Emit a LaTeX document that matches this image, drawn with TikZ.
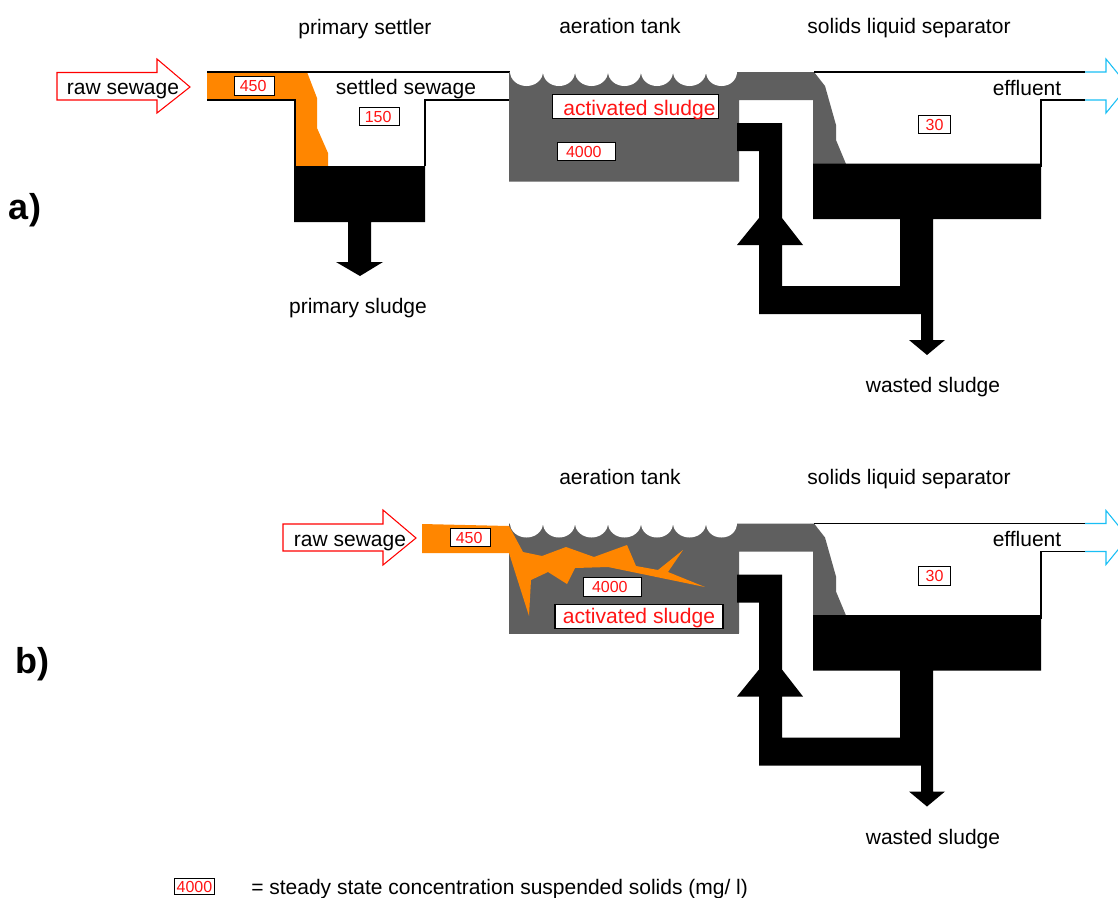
\documentclass[tikz,border=0pt]{standalone}
\usepackage{fontspec}
\setmainfont{Liberation Sans}
\definecolor{sludgegrey}{HTML}{5F5F5F}
\definecolor{rawfill}{HTML}{FF8600}
\definecolor{cyanline}{HTML}{19BFF5}
\definecolor{redtext}{HTML}{FF1414}
\tikzset{
  lab/.style={font=\fontsize{15.75}{18}\selectfont,text=black,inner sep=0pt,anchor=center},
  tag/.style={draw=black,line width=0.8pt,fill=white,inner sep=0pt,minimum height=14pt,
     font=\fontsize{12}{14}\selectfont,text=redtext,anchor=center},
  bigtag/.style={draw=black,line width=0.8pt,fill=white,inner sep=0pt,minimum height=18.5pt,
     font=\fontsize{15.8}{18}\selectfont,text=redtext,anchor=center},
  pipe/.style={draw=black,line width=0.8pt},
  sewer/.style={draw=red,fill=white,line width=0.8pt,line join=miter},
  outflow/.style={draw=cyanline,line width=0.8pt,line join=miter},
  panel/.style={font=\fontsize{27}{30}\selectfont\bfseries,inner sep=0pt,anchor=center},
}
\newcommand{\plantunit}{%
  % aeration tank and sludge channel
  \fill[sludgegrey] (509,72) -- (814,72) -- (825,86) -- (836,125) -- (836,140) -- (846,164)
     -- (813,164) -- (813,100) -- (739,100) -- (739,181.5) -- (509,181.5) -- cycle;
  \foreach \xa/\xb in {510/543,543/575,575/608,608/641,641/673,673/706,706/737}
    \fill[white] (\xa,71.5) .. controls (\xa,79.7) and ({(\xa+\xb)/2-9},86) .. ({(\xa+\xb)/2},86)
       .. controls ({(\xa+\xb)/2+9},86) and (\xb,79.7) .. (\xb,71.5) -- cycle;
  % return sludge line with its arrow head
  \fill[black] (737,123) -- (782,123) -- (782,218) -- (803,245) -- (782,245) -- (782,286)
     -- (900,286) -- (900,219) -- (813,219) -- (813,163.5) -- (1041,163.5) -- (1041,219)
     -- (933,219) -- (933,340) -- (945,340) -- (927,355) -- (909,340) -- (921,340)
     -- (921,314) -- (759,314) -- (759,245) -- (737,245) -- (759,218) -- (759,151)
     -- (737,151) -- cycle;
  % separator outline
  \draw[pipe] (814,72) -- (1085,72);
  \draw[pipe] (1041,167) -- (1041,100) -- (1085,100);
  \draw[outflow] (1085,72) -- (1106,72) -- (1106,59) -- (1128,86) -- (1106,113) -- (1106,100) -- (1085,100);
  \node[lab] (tanklabel) at (620,25.5) {aeration tank};
  \node[lab] (seplabel) at (909,28) {solids liquid separator};
  \node[lab] (efflabel) at (1027,87.5) {effluent};
  \node[lab] (wastelabel) at (933,387.5) {wasted sludge};
  \node[tag,minimum width=23.5pt] (conc30) at (934.5,124.5) {30};
}
\begin{document}
\begin{tikzpicture}[x=0.75pt,y=-0.75pt]
\useasboundingbox (0,0) rectangle (1118,897);
\clip (0,0) rectangle (1118,897);
\fill[white] (0,0) rectangle (1118,897);

% ---- panel a ----
\begin{scope}
  \fill[rawfill] (207,72) -- (307,72) -- (317,98) -- (317,128) -- (328,153) -- (328,166)
     -- (295,166) -- (295,100) -- (207,100) -- cycle;
  \draw[pipe] (207,72) -- (510,72);
  \draw[pipe] (207,100) -- (295,100) -- (295,166);
  \draw[pipe] (425,166) -- (425,100) -- (510,100);
  \fill[black] (294,166) -- (425,166) -- (425,222) -- (371,222) -- (371,262) -- (383,262)
     -- (360,276) -- (336,262) -- (348,262) -- (348,222) -- (294,222) -- cycle;
  \plantunit
  \draw[sewer] (57,72.5) -- (157,72.5) -- (157,59) -- (190,87) -- (157,113) -- (157,100) -- (57,100) -- cycle;
  \node[lab] (rawa) at (123,91) {raw sewage};
  \node[lab] (settlerlabel) at (365,29) {primary settler};
  \node[lab] (settled) at (406,89.5) {settled sewage};
  \node[lab] (primary) at (358,308) {primary sludge};
  \node[tag,minimum width=30.5pt] (conc450a) at (254.5,86) {\hspace*{-2pt}450};
  \node[tag,minimum width=30.5pt] (conc150) at (379.5,116.5) {\hspace*{-2pt}150};
  \node[bigtag,minimum width=125pt] (asa) at (635.5,106.5) {\hspace*{6pt}\raisebox{-6.8pt}[0pt][0pt]{activated sludge}};
  \node[tag,minimum width=44pt] (conc4000a) at (586.5,151.5) {\hspace*{-4pt}4000};
  \node[panel] (labela) at (25,210) {a)};
\end{scope}

% ---- panel b ----
\begin{scope}[shift={(0,451.5)}]
  \plantunit
\end{scope}
\fill[sludgegrey] (509,632) rectangle (739,634.3);
\fill[rawfill] (422,524) -- (509,526) -- (523,552) -- (542,556) -- (566,547) -- (594,557)
   -- (627,545) -- (636,566) -- (658,570) -- (683,550) -- (668,572) -- (705,587) -- (608,567)
   -- (575,568) -- (567,584) -- (548,572) -- (531,580) -- (529,616) -- (509,553) -- (422,553) -- cycle;
\draw[sewer] (283,524) -- (383,524) -- (383,510) -- (416,538) -- (383,565) -- (383,551) -- (283,551) -- cycle;
\node[lab] (rawb) at (350,543) {raw sewage};
\node[tag,minimum width=30.5pt] (conc450b) at (470.5,537.5) {\hspace*{-2pt}450};
\node[tag,minimum width=44pt] (conc4000b) at (612.5,587) {\hspace*{-4pt}4000};
\node[bigtag,minimum width=126pt] (asb) at (639,616.5) {\raisebox{-5.6pt}[0pt][0pt]{activated sludge}};
\node[panel] (labelb) at (32,664.5) {b)};

% ---- legend ----
\node[tag,minimum width=30pt,minimum height=12.5pt] (legendbox) at (194.5,886.5) {4000};
\node[lab,anchor=west] (legendtext) at (251,889) {= steady state concentration suspended solids (mg/ l)};
\end{tikzpicture}
\end{document}
